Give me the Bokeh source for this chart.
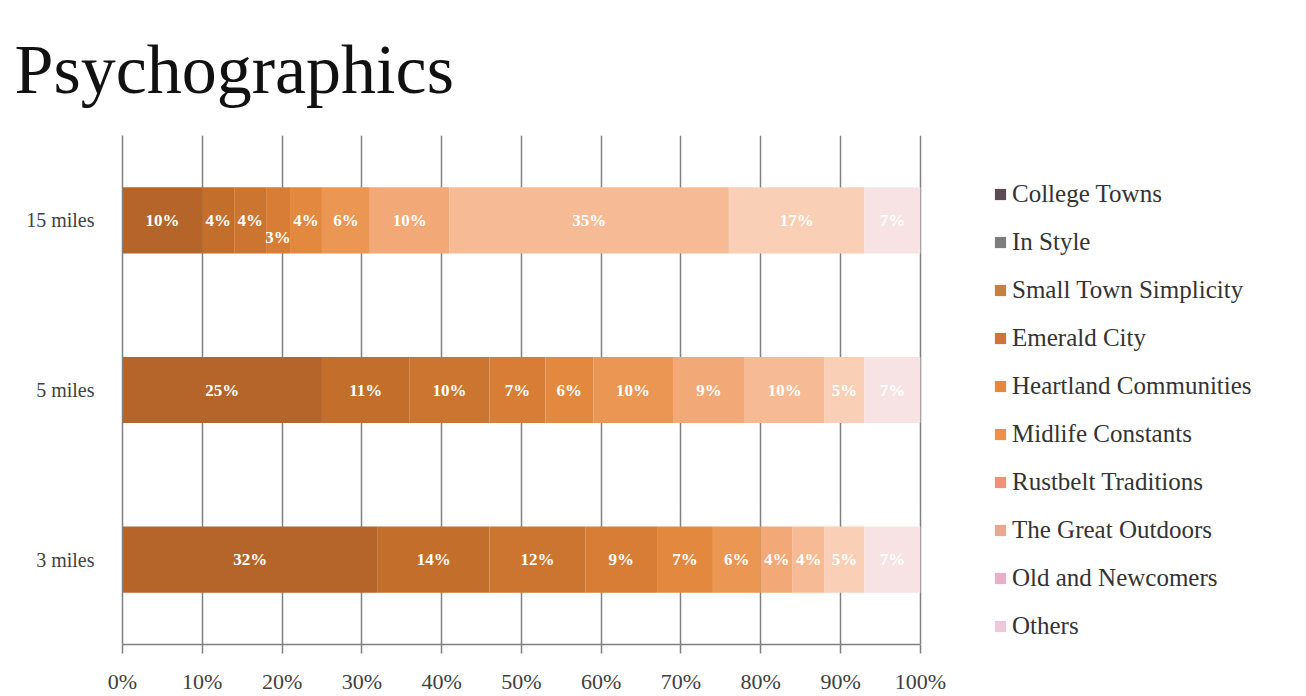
from bokeh.plotting import figure
from bokeh.models import (ColumnDataSource, FactorRange, Range1d, Legend, LegendItem,
                          PrintfTickFormatter, SingleIntervalTicker, LabelSet)
from bokeh.core.properties import value
from bokeh.embed import file_html
from bokeh.resources import INLINE

distances = ["3 miles", "5 miles", "15 miles"]
series = ["College Towns", "In Style", "Small Town Simplicity", "Emerald City",
          "Heartland Communities", "Midlife Constants", "Rustbelt Traditions",
          "The Great Outdoors", "Old and Newcomers", "Others"]
# percent share per distance (order: 3 miles, 5 miles, 15 miles)
college_towns = [32, 25, 10]
in_style = [14, 11, 4]
small_town = [12, 10, 4]
emerald_city = [9, 7, 3]
heartland = [7, 6, 4]
midlife = [6, 10, 6]
rustbelt = [4, 9, 10]
great_outdoors = [4, 10, 35]
old_newcomers = [5, 5, 17]
others = [7, 7, 7]

values_by_series = [college_towns, in_style, small_town, emerald_city, heartland,
                    midlife, rustbelt, great_outdoors, old_newcomers, others]

bar_colors = ["#b5652a", "#c46e2c", "#cc7531", "#d87d35", "#e3883f",
              "#eb9653", "#f3a877", "#f6bb94", "#f9cfb6", "#f8e3e4"]
legend_colors = ["#5b4a52", "#7d7d7d", "#c8803f", "#d0723a", "#e8883c",
                 "#f09048", "#f0907a", "#e8a890", "#e8b0c8", "#ecc8d8"]

keys = [f"s{i}" for i in range(len(series))]
data = {"dist": distances}
for k, v in zip(keys, values_by_series):
    data[k] = v
source = ColumnDataSource(data)

# frame spans to the right edge so the legend can sit inside it;
# the axis and grid are bounded to 0-100 %
p = figure(width=1306, height=696, output_backend="svg", toolbar_location=None,
           y_range=FactorRange(*distances, range_padding=0),
           x_range=Range1d(0, 148.4),
           min_border_left=122, min_border_right=0, min_border_top=135,
           min_border_bottom=49, background_fill_color="white",
           border_fill_color="white", outline_line_color=None)

p.hbar_stack(keys, y="dist", height=0.39, color=bar_colors, line_color=None,
             source=source)

# segment labels
lx, ly, lt, loff = [], [], [], []
for j, d in enumerate(distances):
    left = 0
    for vals in values_by_series:
        v = vals[j]
        lx.append(left + v / 2)
        ly.append(d)
        lt.append(f"{v}%")
        loff.append(-17 if v <= 3 else 0)
        left += v
lab_src = ColumnDataSource(dict(x=lx, y=ly, t=lt, off=loff))
p.add_layout(LabelSet(x="x", y="y", text="t", y_offset="off", source=lab_src,
                      text_align="center", text_baseline="middle",
                      text_color="white", text_font=value("Liberation Serif"),
                      text_font_size="17px", text_font_style="bold"))

# legend with swatch colours (zero-width proxy bars)
items = []
for name, c in zip(series, legend_colors):
    r = p.hbar(y=[distances[0]], left=[0], right=[0], height=0.3,
               fill_color=c, line_color=None)
    items.append(LegendItem(label=name, renderers=[r]))
legend = Legend(items=items, location=(871, 4), glyph_width=14, glyph_height=14,
                label_standoff=5, label_height=24, spacing=20, padding=0,
                margin=0, border_line_color=None, background_fill_alpha=0,
                label_text_font="Liberation Serif", label_text_font_size="25px",
                label_text_color="#333333")
p.add_layout(legend, "center")

# axes
p.xaxis.bounds = (0, 100)
p.xaxis.ticker = SingleIntervalTicker(interval=10)
p.xaxis.formatter = PrintfTickFormatter(format="%d%%")
p.xaxis.axis_line_color = "#808080"
p.xaxis.axis_line_width = 1.5
p.xaxis.major_tick_line_color = "#808080"
p.xaxis.major_tick_line_width = 1.5
p.xaxis.major_tick_in = 0
p.xaxis.major_tick_out = 9
p.xaxis.minor_tick_line_color = None
p.xaxis.major_label_standoff = 15
p.xaxis.major_label_text_font = "Liberation Serif"
p.xaxis.major_label_text_font_size = "22px"
p.xaxis.major_label_text_color = "#404040"

p.yaxis.axis_line_color = "#808080"
p.yaxis.axis_line_width = 1.5
p.yaxis.major_tick_line_color = None
p.yaxis.major_label_standoff = 22
p.yaxis.major_label_text_font = "Liberation Serif"
p.yaxis.major_label_text_font_size = "20px"
p.yaxis.major_label_text_color = "#404040"

p.xgrid.ticker = SingleIntervalTicker(interval=10)
p.xgrid.bounds = (0, 100)
p.xgrid.grid_line_color = "#808080"
p.xgrid.grid_line_width = 1.5
p.ygrid.grid_line_color = None

p.title.text = "Psychographics"
p.title.text_font = "Liberation Serif"
p.title.text_font_size = "70px"
p.title.text_font_style = "normal"
p.title.text_color = "#111111"
p.title.align = "left"
p.title.offset = -108
p.title.standoff = 55

open("out.html", "w").write(file_html(p, INLINE))
